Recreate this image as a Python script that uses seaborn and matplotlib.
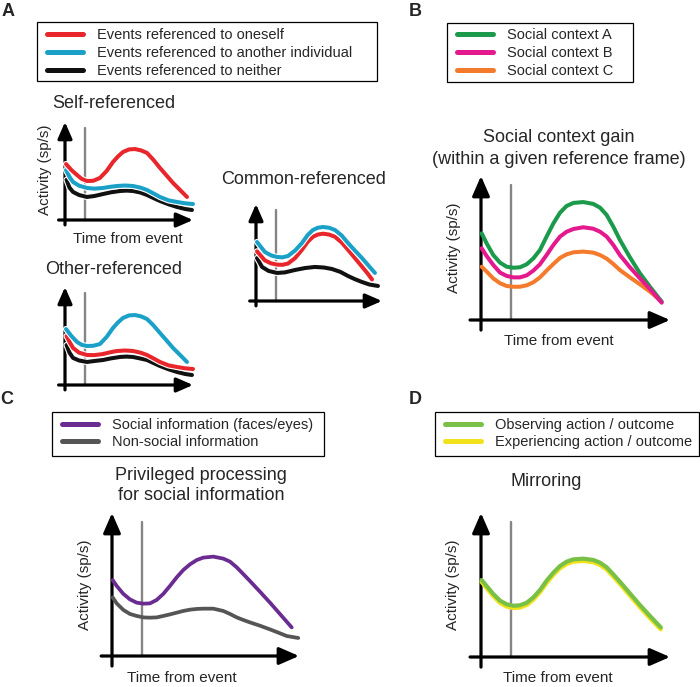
import matplotlib
matplotlib.use("Agg")
import matplotlib.pyplot as plt
import matplotlib.patheffects as pe
from matplotlib.patches import Rectangle
import seaborn as sns

# ---------------- data (schematic activity curves, arbitrary units 0-10) ----------------
event_time = 1.6

# Panel A - Self-referenced
sr_self_t = [0.08, 0.5, 0.94, 1.3, 1.72, 2.2, 2.73, 3.25, 3.75, 4.15, 4.53, 5.0, 5.47, 5.95, 6.41, 6.9, 7.42, 7.93, 8.44, 9.0, 9.53]
sr_self_y = [5.71, 5.1, 4.59, 4.2, 3.98, 4.0, 4.29, 5.0, 5.92, 6.5, 6.94, 7.2, 7.24, 7.1, 6.84, 6.15, 5.31, 4.55, 3.78, 3.05, 2.35]
sr_other_t = [0.08, 0.35, 0.63, 1.1, 1.72, 2.3, 2.97, 3.5, 4.06, 4.7, 5.31, 5.9, 6.41, 6.9, 7.42, 8.1, 8.75, 9.4, 10.0]
sr_other_y = [5.10, 4.4, 3.88, 3.5, 3.27, 3.2, 3.27, 3.38, 3.47, 3.52, 3.47, 3.3, 3.06, 2.72, 2.35, 2.0, 1.84, 1.7, 1.63]
sr_neither_t = [0.12, 0.35, 0.63, 1.1, 1.72, 2.3, 2.97, 3.6, 4.3, 4.8, 5.31, 5.9, 6.41, 6.9, 7.42, 8.1, 8.75, 9.4, 9.92]
sr_neither_y = [4.1, 3.3, 2.86, 2.55, 2.35, 2.45, 2.65, 2.83, 2.96, 3.0, 2.96, 2.8, 2.55, 2.25, 1.94, 1.6, 1.33, 1.12, 1.02]

# Panel A - Other-referenced
or_other_t = [0.08, 0.5, 0.94, 1.3, 1.72, 2.2, 2.73, 3.25, 3.75, 4.15, 4.53, 5.0, 5.47, 5.95, 6.41, 6.9, 7.42, 7.93, 8.44, 9.0, 9.53]
or_other_y = [5.71, 5.0, 4.39, 4.1, 3.98, 4.0, 4.18, 4.9, 5.82, 6.4, 6.84, 7.1, 7.14, 7.0, 6.73, 6.1, 5.31, 4.55, 3.78, 3.05, 2.35]
or_self_t = [0.12, 0.35, 0.63, 1.1, 1.72, 2.3, 2.97, 3.5, 4.06, 4.7, 5.31, 5.9, 6.41, 6.9, 7.42, 8.1, 8.75, 9.4, 10.0]
or_self_y = [5.0, 4.4, 3.78, 3.3, 3.06, 3.05, 3.16, 3.33, 3.47, 3.52, 3.47, 3.3, 3.06, 2.72, 2.35, 2.0, 1.84, 1.7, 1.63]
or_neither_t = [0.12, 0.35, 0.63, 1.1, 1.72, 2.3, 2.97, 3.6, 4.3, 4.8, 5.31, 5.9, 6.41, 6.9, 7.42, 8.1, 8.75, 9.4, 9.92]
or_neither_y = [4.08, 3.3, 2.76, 2.5, 2.35, 2.45, 2.55, 2.72, 2.86, 2.9, 2.86, 2.7, 2.55, 2.25, 1.94, 1.6, 1.33, 1.12, 1.02]

# Panel A - Common-referenced
cr_other_t = [0.08, 0.71, 1.2, 1.67, 2.1, 2.54, 3.1, 3.65, 4.1, 4.52, 4.9, 5.32, 5.8, 6.27, 6.8, 7.30, 7.85, 8.41, 8.95, 9.44]
cr_other_y = [6.08, 5.05, 4.7, 4.54, 4.5, 4.64, 5.2, 5.98, 6.8, 7.32, 7.55, 7.63, 7.55, 7.32, 6.75, 5.98, 5.2, 4.43, 3.62, 2.89]
cr_self_t = [0.08, 0.71, 1.2, 1.67, 2.1, 2.54, 3.1, 3.65, 4.1, 4.52, 4.9, 5.32, 5.8, 6.27, 6.8, 7.30, 7.85, 8.41, 8.85, 9.21]
cr_self_y = [5.12, 4.18, 3.88, 3.75, 3.73, 3.86, 4.42, 5.28, 6.1, 6.62, 6.85, 6.94, 6.85, 6.62, 6.03, 5.28, 4.42, 3.55, 2.85, 2.22]
cr_neither_t = [0.08, 0.48, 1.0, 1.67, 2.3, 3.10, 3.9, 4.68, 5.4, 6.03, 6.7, 7.30, 7.85, 8.41, 9.0, 9.68]
cr_neither_y = [4.43, 3.51, 3.1, 2.89, 2.95, 3.20, 3.40, 3.51, 3.45, 3.30, 3.0, 2.58, 2.25, 1.96, 1.7, 1.55]

legend_a = ["Events referenced to oneself", "Events referenced to another individual",
            "Events referenced to neither"]

# Panel B - social context gain
b_t = [0.035, 0.30, 0.65, 1.01, 1.36, 1.71, 2.06, 2.42, 2.77, 3.12, 3.47, 3.83, 4.18, 4.53, 4.89,
       5.41, 5.94, 6.30, 6.65, 7.00, 7.35, 7.88, 8.41, 8.94, 9.56]
b_ctx_a = [6.02, 5.32, 4.51, 3.98, 3.70, 3.63, 3.66, 3.87, 4.28, 4.86, 5.79, 6.71, 7.45, 7.92, 8.13,
           8.19, 8.06, 7.80, 7.29, 6.48, 5.56, 4.35, 3.24, 2.31, 1.27]
b_ctx_b = [4.98, 4.44, 3.82, 3.29, 3.06, 2.96, 2.96, 3.10, 3.43, 3.87, 4.51, 5.21, 5.79, 6.13, 6.32,
           6.44, 6.34, 6.13, 5.79, 5.21, 4.51, 3.66, 2.89, 2.15, 1.20]
b_ctx_c = [3.70, 3.36, 2.89, 2.55, 2.36, 2.31, 2.31, 2.41, 2.62, 2.96, 3.43, 3.89, 4.31, 4.56, 4.70,
           4.75, 4.68, 4.51, 4.26, 3.89, 3.47, 2.96, 2.48, 1.97, 1.27]
legend_b = ["Social context A", "Social context B", "Social context C"]

# Panel C - privileged processing
c_social_t = [0.036, 0.25, 0.61, 0.96, 1.32, 1.68, 2.03, 2.39, 2.74, 3.10, 3.46, 3.81, 4.17, 4.53, 4.88,
              5.42, 5.95, 6.31, 6.67, 7.02, 7.38, 7.91, 8.45, 8.98, 9.61]
c_social_y = [5.31, 4.90, 4.34, 3.96, 3.73, 3.66, 3.68, 3.92, 4.34, 4.90, 5.50, 6.01, 6.41, 6.71, 6.88,
              6.95, 6.81, 6.60, 6.20, 5.73, 5.24, 4.50, 3.73, 2.94, 2.00]
c_nonsocial_t = [0.036, 0.25, 0.61, 0.96, 1.32, 1.68, 2.03, 2.39, 2.74, 3.10, 3.46, 3.81, 4.17, 4.53, 4.88,
                 5.42, 5.95, 6.31, 6.67, 7.02, 7.38, 7.91, 8.45, 8.98, 9.34, 9.96]
c_nonsocial_y = [4.10, 3.68, 3.22, 2.94, 2.80, 2.70, 2.68, 2.70, 2.80, 2.91, 3.03, 3.15, 3.24, 3.29, 3.31,
                 3.31, 3.15, 2.94, 2.70, 2.52, 2.35, 2.12, 1.86, 1.59, 1.40, 1.26]
legend_c = ["Social information (faces/eyes)", "Non-social information"]

# Panel D - mirroring
d_t = [0.035, 0.30, 0.65, 1.01, 1.36, 1.71, 2.06, 2.42, 2.77, 3.12, 3.47, 3.83, 4.18, 4.53, 4.89,
       5.41, 5.94, 6.30, 6.65, 7.00, 7.35, 7.88, 8.41, 8.94, 9.51]
d_observe = [5.35, 4.93, 4.38, 3.91, 3.66, 3.56, 3.59, 3.77, 4.14, 4.65, 5.30, 5.86, 6.32, 6.62, 6.78,
             6.83, 6.74, 6.55, 6.23, 5.74, 5.23, 4.42, 3.61, 2.85, 2.06]
d_experience = [5.22, 4.79, 4.23, 3.76, 3.51, 3.41, 3.44, 3.62, 3.99, 4.50, 5.15, 5.71, 6.17, 6.47, 6.63,
                6.68, 6.59, 6.40, 6.08, 5.59, 5.08, 4.27, 3.46, 2.70, 1.93]
legend_d = ["Observing action / outcome", "Experiencing action / outcome"]

# ---------------- styling ----------------
sns.set_style("white")
plt.rcParams["font.family"] = ["Liberation Sans", "DejaVu Sans"]

W, H = 700, 687
fig = plt.figure(figsize=(7.0, 6.87), dpi=100)


def fx(px):
    return px / W


def fy(py):
    return 1 - py / H


def make_axes(left, top, right, bottom, xpad, ypad, ms):
    ax = fig.add_axes([fx(left), fy(bottom), (right - left) / W, (bottom - top) / H])
    ax.axis("off")
    style = "-|>,head_length=0.55,head_width=0.24"
    kw = dict(arrowstyle=style, color="black", lw=2.3, shrinkA=0, shrinkB=0, mutation_scale=ms)
    ax.annotate("", xy=(1, 0), xytext=(-xpad, 0), xycoords="axes fraction",
                arrowprops=kw, annotation_clip=False)
    ax.annotate("", xy=(0, 1), xytext=(0, -ypad), xycoords="axes fraction",
                arrowprops=kw, annotation_clip=False)
    ax.axvline(event_time, ymin=0, ymax=0.94, color="#858585", lw=1.7, zorder=1)
    return ax


def curve(ax, t, y, color, label, lw=2.9, outline=False, z=3):
    kws = {}
    if outline:
        kws["path_effects"] = [pe.Stroke(linewidth=lw + 1.6, foreground="white"), pe.Normal()]
    sns.lineplot(x=t, y=y, ax=ax, color=color, linewidth=lw, sort=False, estimator=None,
                 legend=False, label=label, zorder=z, clip_on=False,
                 solid_joinstyle="round", **kws)
    return ax.get_lines()[-1]


def finish(ax):
    ax.set_xlim(0, 10)
    ax.set_ylim(0, 10)


def legend(handles, labels, hx, cy, box):
    leg = fig.legend(handles, labels, loc="center left", bbox_to_anchor=(fx(hx), fy(cy)),
                     bbox_transform=fig.transFigure, frameon=False, borderpad=0,
                     borderaxespad=0, handlelength=2.45, handletextpad=0.95,
                     labelspacing=0.25, fontsize=10.5)
    for h in leg.legend_handles:
        h.set_linewidth(3.6)
        h.set_path_effects([])
    x0, y0, x1, y1 = box
    fig.patches.append(Rectangle((fx(x0), fy(y1)), (x1 - x0) / W, (y1 - y0) / H,
                                 transform=fig.transFigure, fill=False,
                                 edgecolor="black", lw=0.9))


def text(px, py, s, size, **kw):
    fig.text(fx(px), fy(py), s, fontsize=size, ha="center", va="center", **kw)


RED, BLUE, BLACK = "#e8262b", "#1ba1c8", "#111111"

# ---------- Panel A ----------
ax = make_axes(65, 122, 193, 220, 0.05, 0.05, 18)
h_self = curve(ax, sr_self_t, sr_self_y, RED, legend_a[0], outline=True, z=5)
h_neither = curve(ax, sr_neither_t, sr_neither_y, BLACK, legend_a[2], outline=True, z=3)
h_other = curve(ax, sr_other_t, sr_other_y, BLUE, legend_a[1], outline=True, z=4)
finish(ax)

ax = make_axes(65, 287, 193, 385, 0.05, 0.05, 18)
curve(ax, or_neither_t, or_neither_y, BLACK, None, outline=True, z=3)
curve(ax, or_self_t, or_self_y, RED, None, outline=True, z=4)
curve(ax, or_other_t, or_other_y, BLUE, None, outline=True, z=5)
finish(ax)

ax = make_axes(256, 204, 382, 301, 0.05, 0.05, 18)
curve(ax, cr_neither_t, cr_neither_y, BLACK, None, outline=True, z=3)
curve(ax, cr_self_t, cr_self_y, RED, None, outline=True, z=4)
curve(ax, cr_other_t, cr_other_y, BLUE, None, outline=True, z=5)
finish(ax)

legend([h_self, h_other, h_neither], legend_a, 47, 53, (37, 22, 377, 81))

text(8, 12, "A", 13, fontweight="bold")
text(114, 104, "Self-referenced", 13)
text(114, 269, "Other-referenced", 13)
text(304, 179, "Common-referenced", 13)
text(45, 170, "Activity (sp/s)", 11, rotation=90)
text(128, 239, "Time from event", 11)

# ---------- Panel B ----------
ax = make_axes(481, 176, 670, 320, 0.058, 0.07, 22)
hb_c = curve(ax, b_t, b_ctx_c, "#f47b2b", legend_b[2], z=3)
hb_a = curve(ax, b_t, b_ctx_a, "#1a9a4a", legend_b[0], z=4)
hb_b = curve(ax, b_t, b_ctx_b, "#e5198e", legend_b[1], z=5)
finish(ax)
legend([hb_a, hb_b, hb_c], legend_b, 457, 53, (447, 23, 633, 82))
text(415, 12, "B", 13, fontweight="bold")
text(559, 138, "Social context gain", 13)
text(559, 160, "(within a given reference frame)", 13)
text(454, 248, "Activity (sp/s)", 11, rotation=90)
text(559, 341, "Time from event", 11)

# ---------- Panel C ----------
ax = make_axes(112, 513, 299, 656, 0.058, 0.07, 22)
hc_n = curve(ax, c_nonsocial_t, c_nonsocial_y, "#555555", legend_c[1], lw=2.7, z=3)
hc_s = curve(ax, c_social_t, c_social_y, "#6b2c91", legend_c[0], lw=2.7, z=4)
finish(ax)
legend([hc_s, hc_n], legend_c, 62, 433.5, (52, 412, 324, 456))
text(7, 400, "C", 13, fontweight="bold")
text(201, 475, "Privileged processing", 13)
text(201, 496, "for social information", 13)
text(85, 585, "Activity (sp/s)", 11, rotation=90)
text(182, 678, "Time from event", 11)

# ---------- Panel D ----------
ax = make_axes(481, 513, 670, 657, 0.058, 0.07, 22)
hd_e = curve(ax, d_t, d_experience, "#f2e21b", legend_d[1], lw=3.2, z=3)
hd_o = curve(ax, d_t, d_observe, "#79c046", legend_d[0], lw=3.0, z=4)
finish(ax)
legend([hd_o, hd_e], legend_d, 445, 433.5, (435, 412, 699, 456))
text(415, 400, "D", 13, fontweight="bold")
text(546, 482, "Mirroring", 13)
text(453, 585, "Activity (sp/s)", 11, rotation=90)
text(558, 678, "Time from event", 11)

fig.savefig("out.png", dpi=100)
